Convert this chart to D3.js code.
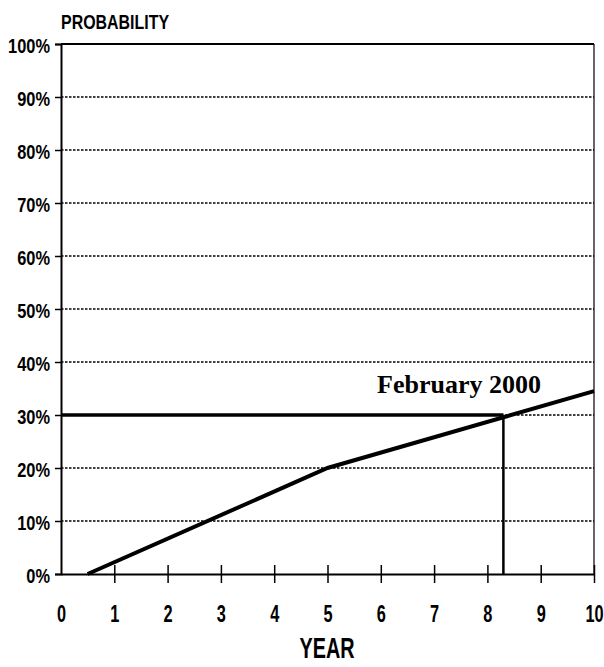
<!DOCTYPE html>
<html>
<head>
<meta charset="utf-8">
<script src="https://cdn.jsdelivr.net/npm/d3@7"></script>
<style>
  body { margin: 0; background: #fff; }
  .lbl { font-family: "Liberation Sans", Arial, sans-serif; font-weight: bold; fill: #000; }
</style>
</head>
<body>
<div id="chart"></div>
<script>
// 数据
const yTicks = [0, 10, 20, 30, 40, 50, 60, 70, 80, 90, 100];
const xTicks = [0, 1, 2, 3, 4, 5, 6, 7, 8, 9, 10];
const curveYears = [0.5, 5, 10];
const curveProb = [0, 20, 34.5];
const markYear = 8.3;
const markProb = 30;
const markLabel = 'February 2000';

const width = 604, height = 667;
const margin = { top: 44, right: 10, bottom: 93, left: 61 };

const svg = d3.select('#chart')
  .append('svg')
  .attr('width', width)
  .attr('height', height);

const x = d3.scaleLinear().domain([0, 10]).range([margin.left, width - margin.right]);
const y = d3.scaleLinear().domain([0, 100]).range([height - margin.bottom, margin.top]);

// 网格线（虚线）
svg.append('g')
  .selectAll('line')
  .data(yTicks.filter(d => d > 0 && d < 100))
  .enter().append('line')
  .attr('x1', x(0))
  .attr('x2', x(10))
  .attr('y1', d => y(d))
  .attr('y2', d => y(d))
  .attr('stroke', '#000')
  .attr('stroke-width', 1.4)
  .attr('stroke-dasharray', '2.5,1.5');

// 顶部与右侧边框
svg.append('line')
  .attr('x1', x(0)).attr('x2', x(10))
  .attr('y1', y(100)).attr('y2', y(100))
  .attr('stroke', '#000').attr('stroke-width', 2);
svg.append('line')
  .attr('x1', x(10)).attr('x2', x(10))
  .attr('y1', y(100)).attr('y2', y(0))
  .attr('stroke', '#000').attr('stroke-width', 1.2);

// y 轴（标签横向压缩，模拟窄体字）
const yScaleX = 0.82;
const yAxis = svg.append('g')
  .attr('transform', `translate(${x(0)},0)`)
  .call(d3.axisLeft(y).tickValues(yTicks).tickFormat(d => d + '%').tickSize(6).tickPadding(4));
yAxis.select('.domain').attr('stroke-width', 2);
yAxis.selectAll('.tick line').attr('stroke-width', 1.5);
yAxis.selectAll('text')
  .attr('class', 'lbl')
  .attr('x', -11 / yScaleX)
  .attr('dy', '0.42em')
  .attr('transform', `scale(${yScaleX},1)`)
  .style('font-size', '20px');

// x 轴
const xAxis = svg.append('g')
  .attr('transform', `translate(0,${y(0)})`)
  .call(d3.axisBottom(x).tickValues(xTicks).tickSize(0).tickPadding(0));
xAxis.select('.domain').attr('stroke-width', 2);
xAxis.selectAll('.tick')
  .filter(d => d > 0)
  .append('line')
  .attr('y1', -9).attr('y2', 9)
  .attr('stroke', '#000').attr('stroke-width', 1.5);
xAxis.selectAll('text')
  .attr('class', 'lbl')
  .attr('y', 48)
  .attr('dy', 0)
  .attr('transform', 'scale(0.68,1)')
  .style('font-size', '24px');

// 概率曲线
const line = d3.line().x(d => x(d[0])).y(d => y(d[1]));
svg.append('path')
  .datum(curveYears.map((d, i) => [d, curveProb[i]]))
  .attr('d', line)
  .attr('fill', 'none')
  .attr('stroke', '#000')
  .attr('stroke-width', 4);

// 30% 水平线与 8.3 年垂直线
svg.append('line')
  .attr('x1', x(0)).attr('x2', x(markYear))
  .attr('y1', y(markProb)).attr('y2', y(markProb))
  .attr('stroke', '#000').attr('stroke-width', 3.5);
svg.append('line')
  .attr('x1', x(markYear)).attr('x2', x(markYear))
  .attr('y1', y(markProb)).attr('y2', y(0))
  .attr('stroke', '#000').attr('stroke-width', 2.5);

// 标注
svg.append('text')
  .attr('x', 459)
  .attr('y', 393)
  .attr('text-anchor', 'middle')
  .style('font-family', '"Liberation Serif", "Times New Roman", serif')
  .style('font-weight', 'bold')
  .style('font-size', '26px')
  .text(markLabel);

// 轴标题
svg.append('text')
  .attr('class', 'lbl')
  .attr('x', 61 / 0.76)
  .attr('y', 29)
  .attr('transform', 'scale(0.76,1)')
  .style('font-size', '21px')
  .text('PROBABILITY');

svg.append('text')
  .attr('class', 'lbl')
  .attr('x', 327 / 0.66)
  .attr('y', 658)
  .attr('text-anchor', 'middle')
  .attr('transform', 'scale(0.66,1)')
  .style('font-size', '30px')
  .text('YEAR');
</script>
</body>
</html>
